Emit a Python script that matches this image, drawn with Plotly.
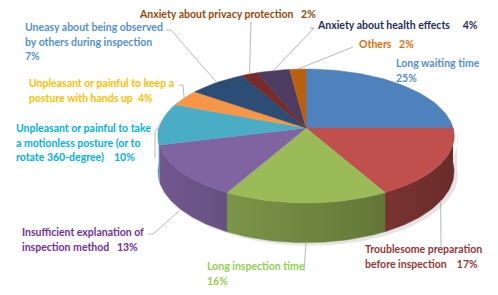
import numpy as np
import plotly.graph_objects as go

# ---------------- data ----------------
categories = [
    "Long waiting time",
    "Troublesome preparation before inspection",
    "Long inspection time",
    "Insufficient explanation of inspection method",
    "Unpleasant or painful to take a motionless posture (or to rotate 360-degree)",
    "Unpleasant or painful to keep a posture with hands up",
    "Uneasy about being observed by others during inspection",
    "Anxiety about privacy protection",
    "Anxiety about health effects",
    "Others",
]
values = [25, 17, 16, 13, 10, 4, 7, 2, 4, 2]

# label text layouts ({p} = percentage)
label_templates = [
    "Long waiting time<br>{p}",
    "Troublesome preparation<br>before inspection\u00a0\u00a0\u00a0\u00a0{p}",
    "Long inspection time<br>{p}",
    "Insufficient explanation of<br>inspection method\u00a0\u00a0\u00a0{p}",
    "Unpleasant or painful to take<br>a motionless posture (or to<br>rotate 360-degree)\u00a0\u00a0\u00a0\u00a0{p}",
    "Unpleasant or painful to keep a<br>posture with hands up\u00a0\u00a0{p}",
    "Uneasy about being observed<br>by others during inspection<br>{p}",
    "Anxiety about privacy protection\u00a0\u00a0\u00a0{p}",
    "Anxiety about health effects\u00a0\u00a0\u00a0\u00a0\u00a0{p}",
    "Others\u00a0\u00a0\u00a0{p}",
]

# ---------------- style ----------------
slice_colors = ["#4F81BD", "#C0504D", "#9BBB59", "#8064A2", "#4BACC6",
                "#F79646", "#2C4D75", "#772C2A", "#4D3B62", "#B9600E"]
label_colors = ["#558ED5", "#953735", "#92D050", "#7030A0", "#00B0F0",
                "#FFC000", "#558ED5", "#984807", "#1F2D5E", "#E46C0A"]
# label anchor (left x, centre y of first line) in pixel units
label_pos = [(394, 63), (363, 249), (205, 266), (20, 232), (14, 128),
             (27, 83), (23, 27), (137, 14), (315, 25), (357, 44)]
LINE_H = 14.5
# leader line start points (near label); None = no leader
leader_start = [None,
                [(441, 246)],
                [(304, 271)],
                [(148, 234), (153, 234)],
                [(155, 158), (155, 132)],
                [(179, 85), (183, 85)],
                [(166, 30), (171, 30)],
                [(251, 22)],
                [(310, 28), (314, 28)],
                [(353, 47)]]

W, H = 498, 295
CX, CY, A, B, K, D = 306.0, 128.0, 147.0, 66.0, 0.119, 35.0


def proj(t, z=0.0):
    u = np.sin(t)
    v = -np.cos(t)
    s = 1.0 / (1.0 - K * v)
    return CX + A * u * s, CY + B * v * s + z * D * s


def shade(hexc, f):
    r, g, b = int(hexc[1:3], 16), int(hexc[3:5], 16), int(hexc[5:7], 16)
    return "rgb(%d,%d,%d)" % (min(255, r * f), min(255, g * f), min(255, b * f))


total = float(sum(values))
cum = np.concatenate([[0], np.cumsum(values)]) / total * 2 * np.pi

fig = go.Figure()

# soft shadow
ts = np.linspace(np.pi / 2, 3 * np.pi / 2, 80)
sx, sy = proj(ts, 1.0)
tx, ty = proj(ts[::-1], 0.0)
fig.add_trace(go.Scatter(x=np.concatenate([sx + 4, tx + 4]), y=np.concatenate([sy + 3, ty + 3]),
                         fill="toself", mode="lines", line=dict(width=0, color="rgba(0,0,0,0)"),
                         fillcolor="rgba(0,0,0,0.10)", hoverinfo="skip", showlegend=False))

# side walls (front half) with horizontal lighting gradient
def light(t):
    return 0.72 + 0.17 * (-np.sin(t))

for i, col in enumerate(slice_colors):
    t0, t1 = max(cum[i], np.pi / 2), min(cum[i + 1], 3 * np.pi / 2)
    if t1 <= t0:
        continue
    tt = np.linspace(t0, t1, 40)
    xt, yt = proj(tt, 0.0)
    xb, yb = proj(tt[::-1], 1.0)
    xs = np.concatenate([xt, xb])
    ys = np.concatenate([yt, yb])
    xmin, xmax = xs.min(), xs.max()
    tl = tt[np.argmin(xt)]
    tr = tt[np.argmax(xt)]
    cl, cr = shade(col, light(tl)), shade(col, light(tr))
    cmid = shade(col, light(0.5 * (tl + tr)))
    fig.add_trace(go.Scatter(x=xs, y=ys, fill="toself", mode="lines",
                             line=dict(width=0.5, color=cmid),
                             fillgradient=dict(type="horizontal",
                                               colorscale=[[0, cl], [1, cr]],
                                               start=xmin, stop=xmax),
                             hoverinfo="skip", showlegend=False))

# top faces
for i, col in enumerate(slice_colors):
    n = max(4, int(np.degrees(cum[i + 1] - cum[i]) / 2))
    tt = np.linspace(cum[i], cum[i + 1], n)
    xa, ya = proj(tt, 0.0)
    xs = np.concatenate([[CX], xa, [CX]])
    ys = np.concatenate([[CY], ya, [CY]])
    fig.add_trace(go.Scatter(x=xs, y=ys, fill="toself", mode="lines",
                             line=dict(width=0.5, color=col), fillcolor=col,
                             name=categories[i], text=f"{values[i]}%",
                             hoverinfo="name+text", showlegend=False))

# leader lines + labels
for i in range(len(values)):
    tm = 0.5 * (cum[i] + cum[i + 1])
    front = -np.cos(tm) > 0
    px, py = proj(tm, 1.0 if front else 0.0)
    if leader_start[i] is not None:
        pts = leader_start[i] + [(px, py)]
        fig.add_trace(go.Scatter(x=[p[0] for p in pts], y=[p[1] for p in pts], mode="lines",
                                 line=dict(width=0.8, color="#A6A6A6"),
                                 hoverinfo="skip", showlegend=False))
    lines = label_templates[i].format(p=f"{values[i]}%").split("<br>")
    for k, ln in enumerate(lines):
        fig.add_annotation(x=label_pos[i][0], y=label_pos[i][1] + k * LINE_H,
                           xref="x", yref="y", text="<b>" + ln + "</b>", showarrow=False,
                           xanchor="left", yanchor="middle", align="left",
                           font=dict(family="Lato, Open Sans, sans-serif",
                                     size=10.5, color=label_colors[i]))

fig.update_layout(
    width=W, height=H, margin=dict(l=0, r=0, t=0, b=0),
    paper_bgcolor="white", plot_bgcolor="white",
    xaxis=dict(range=[0, W], visible=False, fixedrange=True),
    yaxis=dict(range=[H, 0], visible=False, fixedrange=True),
    showlegend=False,
)

fig.write_html("out.html", config={"displayModeBar": False},
               post_script="document.body.style.margin='0';")
